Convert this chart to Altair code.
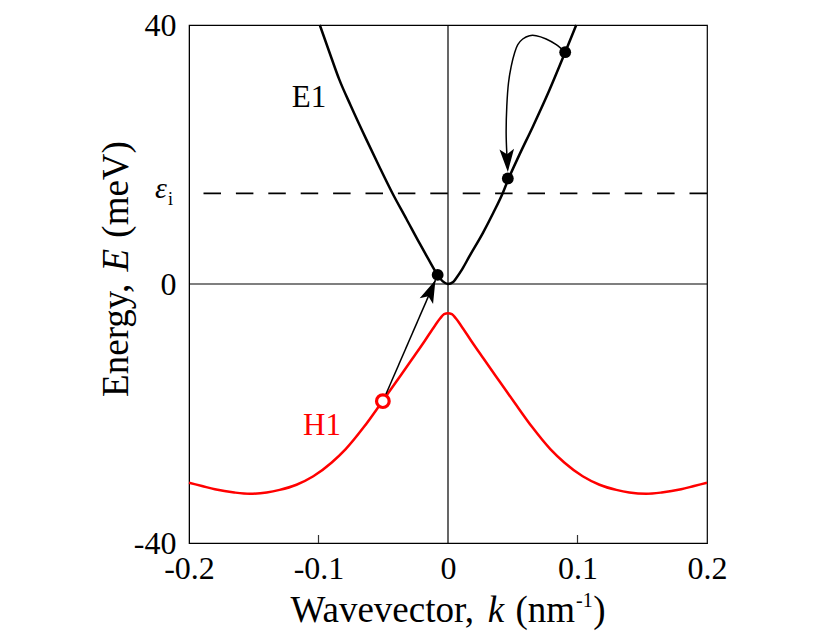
import math
import pandas as pd
import altair as alt

# ---------------- data ----------------
W, H = 518, 518
K_MIN, K_MAX = -0.2, 0.2
E_MIN, E_MAX = -40, 40

# E1 (conduction) band
e1_k = [-0.099, -0.09, -0.084, -0.075, -0.063, -0.053, -0.043, -0.032, -0.022, -0.015,
        -0.008, -0.004, 0.0, 0.004, 0.0063, 0.011, 0.0166, 0.027, 0.035, 0.0423,
        0.0462, 0.055, 0.0655, 0.078, 0.0905, 0.099]
e1_E = [40.0, 34.9, 31.6, 27.5, 22.3, 18.1, 14.05, 10.0, 6.3, 3.8,
        1.4, 0.4, 0.0, 0.3, 0.9, 2.3, 4.3, 7.9, 11.0, 14.05,
        16.0, 19.9, 24.3, 29.8, 35.8, 40.0]

# H1 (valence) band
h1_k = [-0.2, -0.19, -0.18, -0.165, -0.153, -0.14, -0.13, -0.117, -0.104, -0.09,
        -0.079, -0.065, -0.052, -0.04, -0.027, -0.018, -0.01, -0.006, -0.003, 0.0,
        0.003, 0.006, 0.01, 0.018, 0.027, 0.04, 0.052, 0.065, 0.079, 0.09, 0.104,
        0.117, 0.13, 0.14, 0.153, 0.165, 0.18, 0.19, 0.2]
h1_E = [-30.7, -31.2, -31.7, -32.2, -32.4, -32.2, -31.8, -31.0, -29.7, -27.6,
        -25.5, -22.1, -18.5, -15.1, -11.4, -8.8, -6.4, -5.3, -4.65, -4.5,
        -4.65, -5.3, -6.4, -8.8, -11.4, -15.1, -18.5, -22.1, -25.5, -27.6, -29.7,
        -31.0, -31.8, -32.2, -32.4, -32.2, -31.7, -31.2, -30.7]

eps_i = 14.0

dots_k = [-0.008, 0.0462, 0.0905]
dots_E = [1.4, 16.3, 35.8]

hole_k = [-0.0503]
hole_E = [-18.1]

arrow1_k = [-0.0503, -0.0097]
arrow1_E = [-18.1, 0.6]

loop_k = [0.0905, 0.0836, 0.0758, 0.0681, 0.0629, 0.0577, 0.0539, 0.0514,
          0.0488, 0.0467, 0.0454, 0.0449, 0.0454, 0.0458]
loop_E = [35.8, 36.96, 37.84, 38.35, 38.35, 37.84, 36.96, 35.68,
          33.61, 31.04, 27.43, 23.32, 20.23, 19.0]
loop_tip_k, loop_tip_E = 0.0462, 17.3

x_ticks = [-0.2, -0.1, 0.0, 0.1, 0.2]
x_inner_ticks = [-0.1, 0.1]
y_ticks = [-40, 0, 40]

FONT = "Liberation Serif"

# ---------------- helpers ----------------
SX = W / (K_MAX - K_MIN)
SY = H / (E_MAX - E_MIN)

def heading(k0, e0, k1, e1):
    a = math.degrees(math.atan2((k1 - k0) * SX, (e1 - e0) * SY))
    return a % 360

ARROW = "M0,0L0.64,2L0,1.55L-0.64,2Z"

xenc = alt.X("k:Q", scale=alt.Scale(domain=[K_MIN, K_MAX], nice=False, zero=False),
             axis=alt.Axis(values=x_ticks, title=None, grid=False, ticks=False,
                           labelExpr="datum.value == 0 ? '0' : (datum.value < 0 ? '-' : '') + format(abs(datum.value), '.1f')",
                           labelFont=FONT, labelFontSize=32, labelColor="black",
                           labelPadding=10, labelFlush=False, labelOverlap=False,
                           domainColor="black"))
yenc = alt.Y("E:Q", scale=alt.Scale(domain=[E_MIN, E_MAX], nice=False, zero=False),
             axis=alt.Axis(values=y_ticks, title=None, grid=False, ticks=False,
                           labelExpr="datum.value == 0 ? '0' : (datum.value < 0 ? '-' : '') + format(abs(datum.value), 'd')",
                           labelFont=FONT, labelFontSize=32, labelColor="black",
                           labelPadding=13, labelFlush=False, labelOverlap=False,
                           domainColor="black"))

# ---------------- layers ----------------
vline = alt.Chart(pd.DataFrame({"k": [0.0]})).mark_rule(color="black", strokeWidth=1.2).encode(x=xenc)
hline = alt.Chart(pd.DataFrame({"E": [0.0]})).mark_rule(color="black", strokeWidth=1.2).encode(y=yenc)
dash = alt.Chart(pd.DataFrame({"E": [eps_i]})).mark_rule(
    color="black", strokeWidth=1.7, strokeDash=[17.5, 14.9]).encode(y=yenc)

inner_ticks = alt.Chart(pd.DataFrame({"k": x_inner_ticks})).mark_rule(
    color="#333333", strokeWidth=1.2).encode(x=xenc, y=alt.value(H), y2=alt.value(H - 8))

h1 = alt.Chart(pd.DataFrame({"k": h1_k, "E": h1_E})).mark_line(
    color="#ff0000", strokeWidth=2.5, interpolate="monotone").encode(x=xenc, y=yenc)
e1 = alt.Chart(pd.DataFrame({"k": e1_k, "E": e1_E})).mark_line(
    color="black", strokeWidth=2.5, interpolate="monotone").encode(x=xenc, y=yenc)

arrow1 = alt.Chart(pd.DataFrame({"k": arrow1_k, "E": arrow1_E, "i": [0, 1]})).mark_line(
    color="black", strokeWidth=1.5).encode(x=xenc, y=yenc, order="i:Q")

loop = alt.Chart(pd.DataFrame({"k": loop_k, "E": loop_E, "i": list(range(len(loop_k)))})).mark_line(
    color="black", strokeWidth=1.5, interpolate="catmull-rom").encode(x=xenc, y=yenc, order="i:Q")

heads_df = pd.DataFrame({
    "k": [arrow1_k[1], loop_tip_k],
    "E": [arrow1_E[1], loop_tip_E],
    "ang": [heading(arrow1_k[0], arrow1_E[0], arrow1_k[1], arrow1_E[1]),
            heading(loop_k[-1], loop_E[-1], loop_tip_k, loop_tip_E)],
})
heads = alt.Chart(heads_df).mark_point(
    shape=ARROW, filled=True, size=520, color="black", opacity=1).encode(
    x=xenc, y=yenc, angle=alt.Angle("ang:Q", scale=None))

dots = alt.Chart(pd.DataFrame({"k": dots_k, "E": dots_E})).mark_circle(
    color="black", size=140, opacity=1).encode(x=xenc, y=yenc)

hole = alt.Chart(pd.DataFrame({"k": hole_k, "E": hole_E})).mark_point(
    shape="circle", size=160, filled=False, fill="white", fillOpacity=1,
    stroke="#ff0000", strokeWidth=3.2, opacity=1).encode(x=xenc, y=yenc)

def txt(s, x, y, size=30, color="black", style="normal", align="left", baseline="alphabetic", angle=0):
    kw = dict(text=s, font=FONT, fontSize=size, color=color, fontStyle=style,
              align=align, baseline=baseline)
    if angle:
        kw["angle"] = angle
    return alt.Chart(pd.DataFrame({"a": [0]})).mark_text(**kw).encode(
        x=alt.value(x), y=alt.value(y))

# Times / Liberation Serif advance widths (per 1000 em)
WID = {"W": 944, "a": 444, "v": 500, "e": 444, "c": 444, "t": 278, "o": 500, "r": 333,
       ",": 250, " ": 250, "(": 333, ")": 333, "n": 500, "m": 778, "E": 611, "g": 500,
       "y": 500, "V": 722, "-": 333, "1": 500, "k": 444}

def tw(s, fs):
    return sum(WID.get(ch, 500) for ch in s) * fs / 1000.0

TFS = 37
SUP = 20
SPACE = tw(" ", TFS)
# x title pieces: (text, size, style, vertical shift, gap before)
xt = [("Wavevector,", TFS, "normal", 0, 0.0),
      ("k", TFS, "italic", 0, SPACE),
      ("(nm", TFS, "normal", 0, SPACE + 2),
      ("-1", SUP, "normal", -15, 1.0),
      (")", TFS, "normal", 0, 0.5)]
total = sum(tw(s, f) + g for s, f, _, _, g in xt)
xpos = W / 2 - total / 2
xbase = 597
xtitle = []
for s, f, st, dy, g in xt:
    xpos += g
    xtitle.append(txt(s, xpos, xbase + dy, size=f, style=st))
    xpos += tw(s, f)

# y title pieces (rotated, reading upwards)
yt = [("Energy,", "normal", 0.0), ("E", "italic", SPACE), ("(meV)", "normal", SPACE + 2)]
ytotal = sum(tw(s, TFS) + g for s, _, g in yt)
ypos = 244 + ytotal / 2
ybase_x = -61
ytitle = []
for s, st, g in yt:
    ypos -= g
    ytitle.append(txt(s, ybase_x, ypos, size=TFS, style=st, angle=270))
    ypos -= tw(s, TFS)

labels = [
    txt("E1", 120, 82, size=31, align="center"),
    txt("H1", 133, 410, size=31, color="#ff0000", align="center"),
    txt("ε", -28, 173, size=30, style="italic", align="center"),
    txt("i", -21, 180, size=18, align="left"),
]

chart = alt.layer(
    vline, hline, dash, inner_ticks, h1, e1, arrow1, loop, heads, dots, hole,
    *xtitle, *ytitle, *labels
).properties(
    width=W, height=H,
    autosize=alt.AutoSizeParams(type="none"),
    padding={"left": 181, "top": 17, "right": 110, "bottom": 94},
).configure_view(stroke="black", strokeWidth=1.2)

chart.save("out.html", embed_options={"renderer": "svg", "actions": False})
